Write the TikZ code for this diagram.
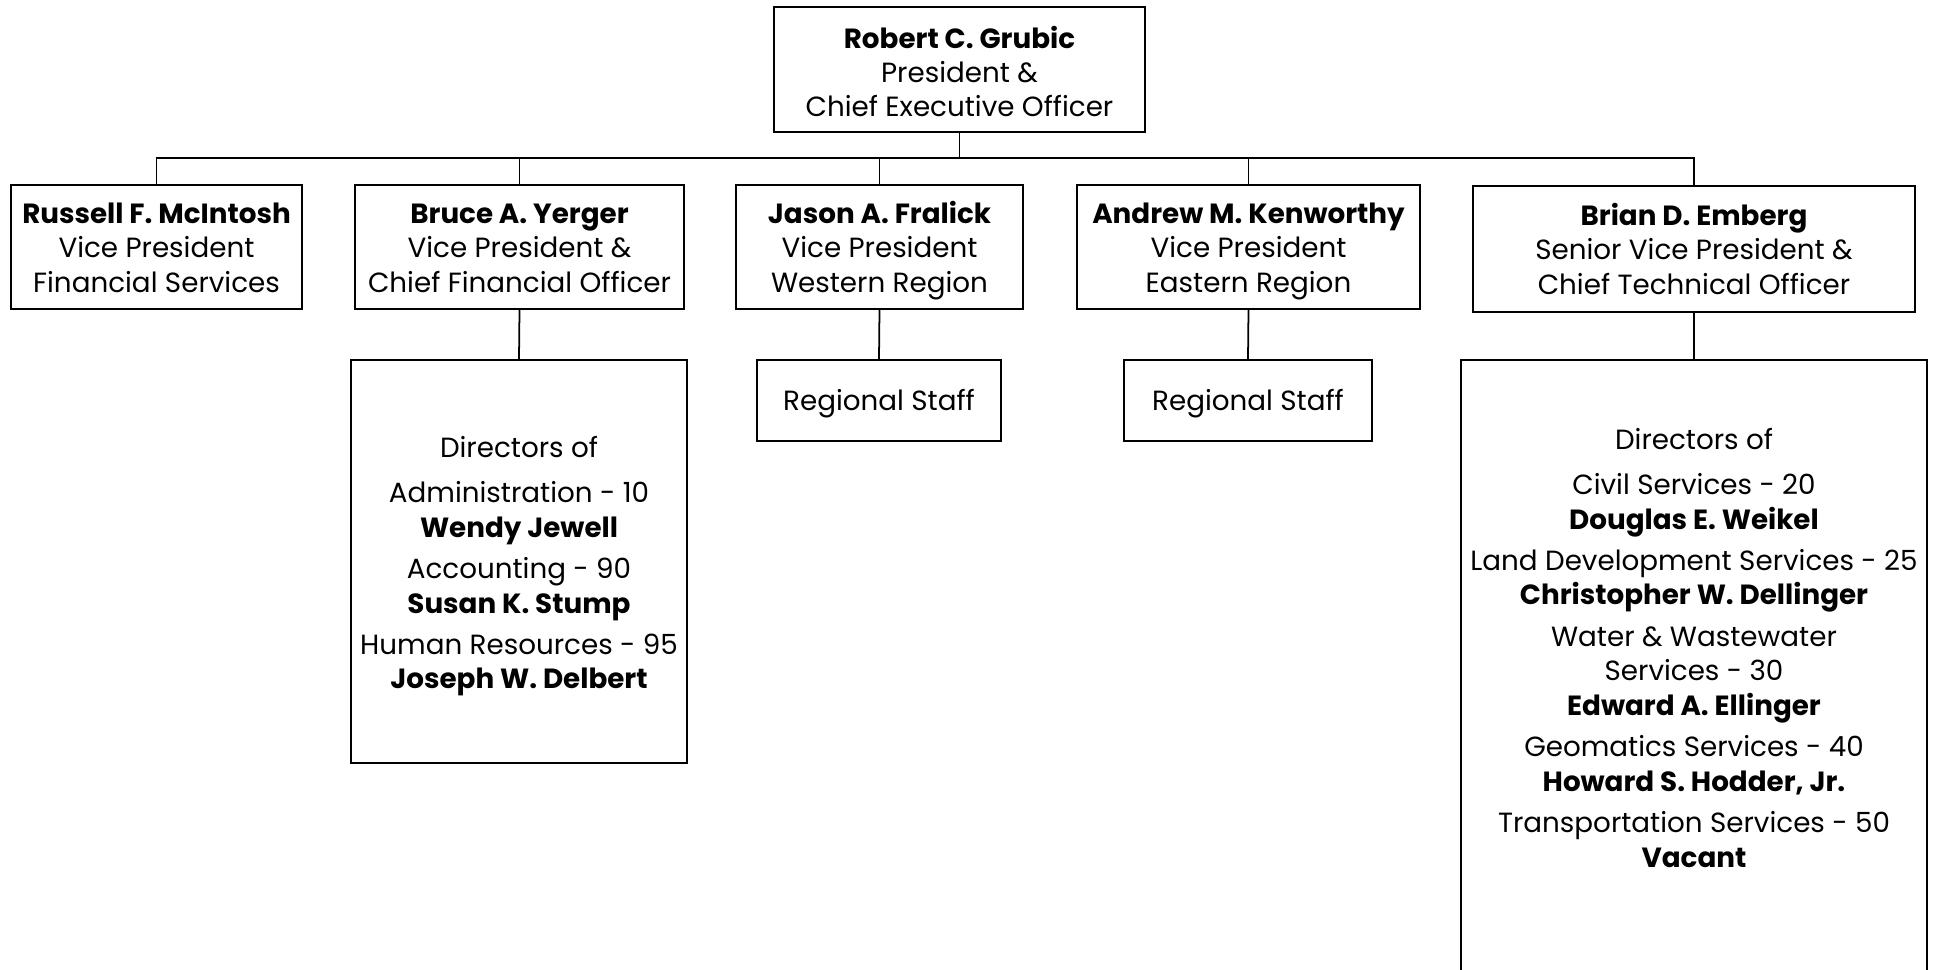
\documentclass[tikz,border=0pt]{standalone}
\usepackage{fontspec}
\setmainfont{Poppins}
\usepackage{tikz}
\usetikzlibrary{positioning}

\newcommand{\lift}[1]{\rule{0pt}{#1}}

\tikzset{
  post/.style={draw,line width=0.5pt,align=center,inner sep=0pt,
    font=\fontsize{7.9}{9.8}\selectfont},
  staff/.style={post},
  link/.style={line width=0.5pt}
}

\begin{document}
\begin{tikzpicture}
	\useasboundingbox (0,0) rectangle (19.33,-9.69);
	% top
	\node[post,minimum width=3.71cm,minimum height=1.25cm] at (9.595,-0.695) (ceo) {\lift{10.3pt}\textbf{Robert C. Grubic}\\President \&\\Chief Executive Officer\strut};
	% vice presidents
	\node[post,minimum width=2.91cm,minimum height=1.24cm] at (1.565,-2.47) (mcintosh) {\lift{9pt}\textbf{Russell F. McIntosh}\\Vice President\\Financial Services\strut};
	\node[post,minimum width=3.29cm,minimum height=1.24cm] at (5.195,-2.47) (yerger) {\lift{9pt}\textbf{Bruce A. Yerger}\\Vice President \&\\Chief Financial Officer\strut};
	\node[post,minimum width=2.87cm,minimum height=1.24cm] at (8.795,-2.47) (fralick) {\lift{9pt}\textbf{Jason A. Fralick}\\Vice President\\Western Region\strut};
	\node[post,minimum width=3.43cm,minimum height=1.24cm] at (12.485,-2.47) (kenworthy) {\lift{9pt}\textbf{Andrew M. Kenworthy}\\Vice President\\Eastern Region\strut};
	\node[post,minimum width=4.42cm,minimum height=1.26cm] at (16.94,-2.49) (emberg) {\lift{9pt}\textbf{Brian D. Emberg}\\Senior Vice President \&\\Chief Technical Officer\strut};
	% staff
	\node[staff,minimum width=3.36cm,minimum height=4.03cm] at (5.19,-5.615) (yergerstaff) {\lift{8.8pt}Directors of\\[3pt]
		Administration - 10\\\textbf{Wendy Jewell}\\[2pt]
		Accounting - 90\\\textbf{Susan K. Stump}\\[2pt]
		Human Resources - 95\\\textbf{Joseph W. Delbert}};
	\node[staff,minimum width=2.44cm,minimum height=0.81cm] at (8.79,-4.005) (fralickstaff) {\lift{8pt}Regional Staff};
	\node[staff,minimum width=2.48cm,minimum height=0.81cm] at (12.48,-4.005) (kenworthystaff) {\lift{8pt}Regional Staff};
	\node[staff,draw=none,minimum width=4.64cm,minimum height=5.74cm,anchor=north] at (16.94,-3.60) (embergstaff) {Directors of\\[3pt]
		Civil Services - 20\\\textbf{Douglas E. Weikel}\\[2pt]
		Land Development Services - 25\\\textbf{Christopher W. Dellinger}\\[2pt]
		Water \& Wastewater\\Services - 30\\\textbf{Edward A. Ellinger}\\[2pt]
		Geomatics Services - 40\\\textbf{Howard S. Hodder, Jr.}\\[2pt]
		Transportation Services - 50\\\textbf{Vacant}};
	\draw[link] (embergstaff.north west |- 0,-9.80) -- (embergstaff.north west) -- (embergstaff.north east) -- (embergstaff.north east |- 0,-9.80);
	% connectors
	\coordinate (bus) at (9.595,-1.58);
	\draw[link] (ceo.south) -- (bus);
	\draw[link] (bus) -| (mcintosh.north);
	\draw[link] (bus) -| (yerger.north);
	\draw[link] (bus) -| (fralick.north);
	\draw[link] (bus) -| (kenworthy.north);
	\draw[link] (bus) -| (emberg.north);
	\draw[link] (yerger.south) -- (yergerstaff.north);
	\draw[link] (fralick.south) -- (fralickstaff.north);
	\draw[link] (kenworthy.south) -- (kenworthystaff.north);
	\draw[link] (emberg.south) -- (embergstaff.north);
\end{tikzpicture}
\end{document}
